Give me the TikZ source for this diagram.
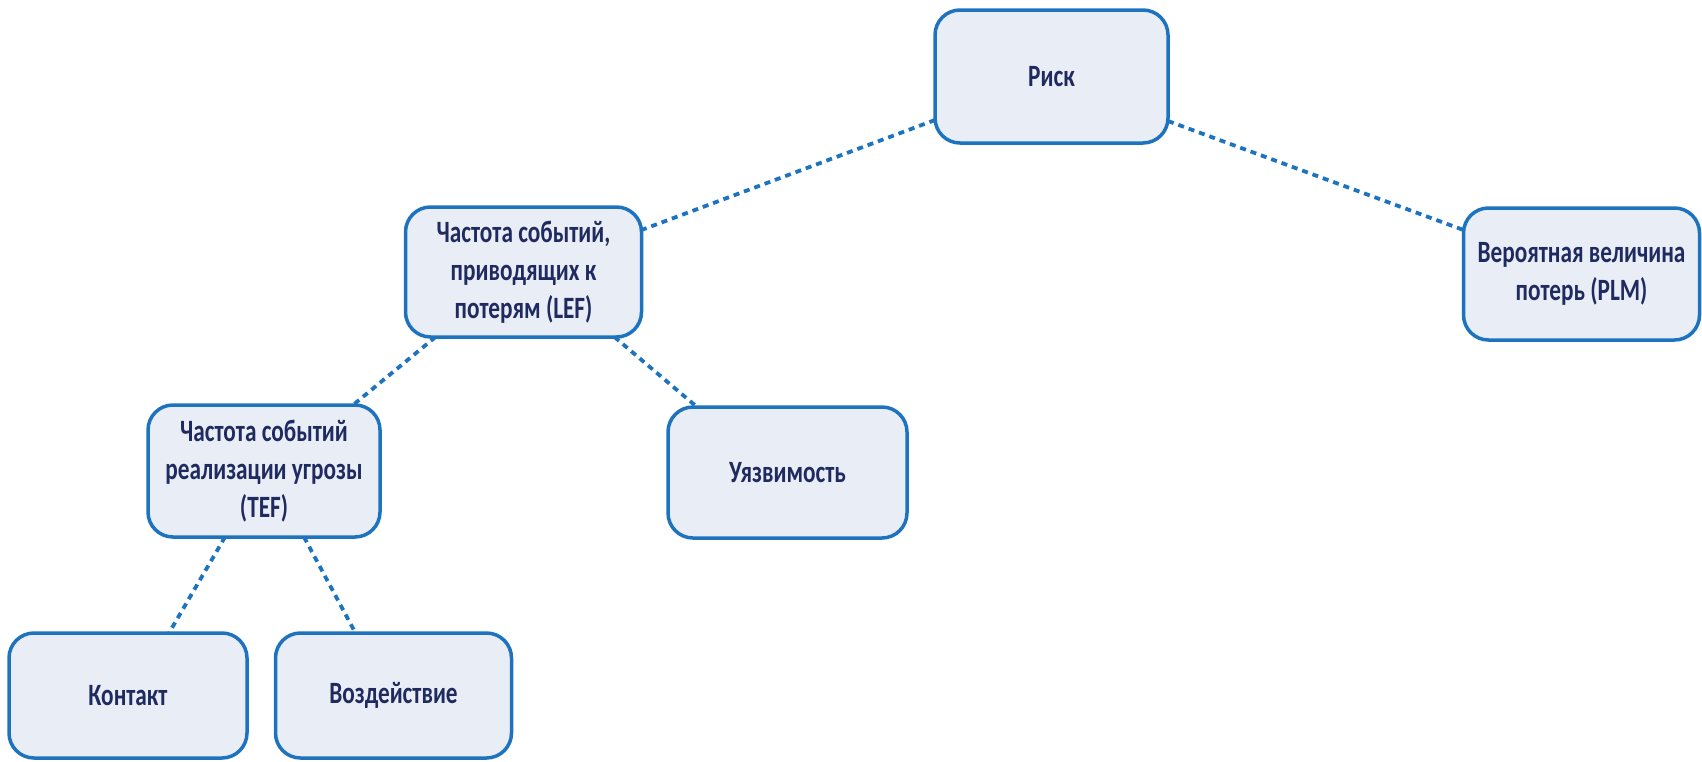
\documentclass[tikz,border=0pt]{standalone}
\usepackage{fontspec}
\setmainfont[FakeStretch=0.75,BoldFont={Carlito Bold},BoldFeatures={FakeStretch=0.75}]{Carlito}
\definecolor{boxline}{HTML}{1E73BE}
\definecolor{boxfill}{HTML}{E9EDF5}
\definecolor{boxtext}{HTML}{1F2B60}
\tikzset{
  px/.style={x=0.5pt,y=-0.5pt},
  box/.style={draw=boxline, fill=boxfill, line width=1.75pt, rounded corners=12.5pt,
    minimum width=118pt, minimum height=65pt, inner sep=2pt, outer sep=0pt,
    align=center, text=boxtext,
    font=\fontsize{15.5pt}{19pt}\selectfont\bfseries},
  link/.style={draw=boxline, line width=1.9pt, dash pattern=on 3pt off 2.5pt}
}
\begin{document}
\begin{tikzpicture}[px]
\useasboundingbox (0,0) rectangle (1702,761);
% nodes of the risk tree
\node[box, minimum width=116.5pt, minimum height=66.5pt] (risk) at (1051.5,76.5) {Риск};
\node[box] (lef) at (523.5,272) {Частота событий,\\приводящих к\\потерям (LEF)};
\node[box, minimum height=66pt] (plm) at (1581.5,274) {Вероятная величина\\потерь (PLM)};
\node[box, minimum width=116pt, minimum height=66pt] (tef) at (264,471) {Частота событий\\реализации угрозы\\(TEF)};
\node[box, minimum width=119.5pt, minimum height=65.5pt] (vul) at (787.5,472.5) {Уязвимость};
\node[box, minimum width=119pt, minimum height=62.5pt] (contact) at (128,695.5) {Контакт};
\node[box, minimum height=62.5pt] (action) at (393.5,695.5) {Воздействие};
% dotted connectors
\draw[link] ([yshift=11.5pt]risk.south west) -- ([yshift=-11.5pt]lef.north east);
\draw[link] ([yshift=11pt]risk.south east) -- ([yshift=-11pt]plm.north west);
\draw[link] ([xshift=15pt]lef.south west) -- ([xshift=-13.5pt]tef.north east);
\draw[link] ([xshift=-13.5pt]lef.south east) -- ([xshift=14.5pt]vul.north west);
\draw[link] ([xshift=-19.5pt]tef.south) -- ([xshift=20.5pt]contact.north);
\draw[link] ([xshift=20pt]tef.south) -- ([xshift=-19pt]action.north);
\end{tikzpicture}
\end{document}
